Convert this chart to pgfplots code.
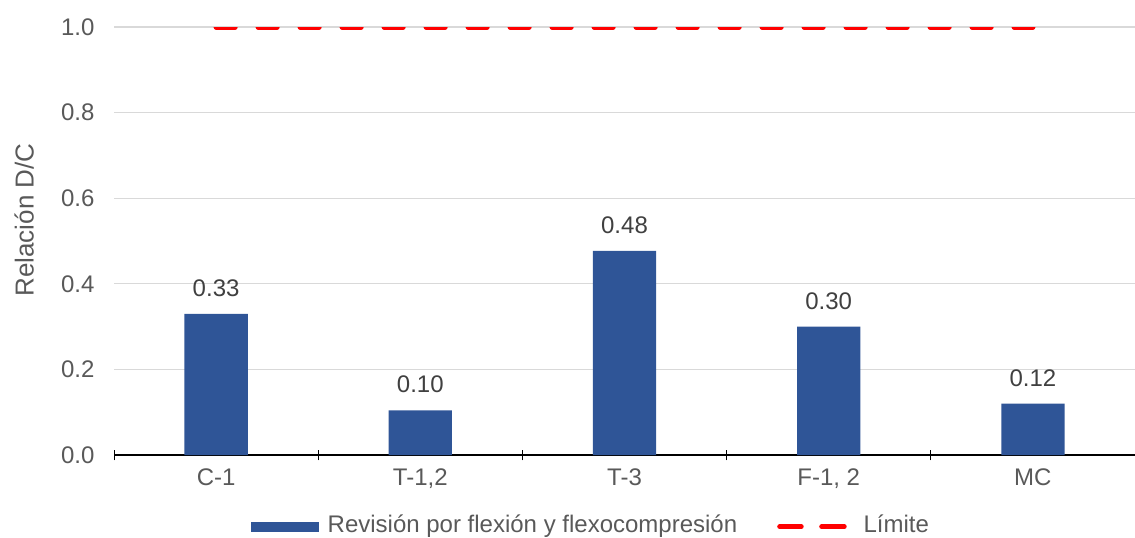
\documentclass[border=0pt]{standalone}
\usepackage{fontspec}
\setmainfont{Liberation Sans}
\usepackage{pgfplots}
\pgfplotsset{compat=1.18}
\definecolor{barblue}{HTML}{2F5597}
\definecolor{txtgray}{HTML}{595959}
\definecolor{lblgray}{HTML}{404040}
\definecolor{gridgray}{HTML}{D9D9D9}
\definecolor{limred}{HTML}{FF0000}
\begin{document}
\begin{tikzpicture}[font=\fontsize{18}{21.6}\selectfont]
\path[use as bounding box] (0,0) rectangle (851.25pt,402.75pt);
\begin{axis}[
  at={(85.5pt,61.5pt)}, anchor=south west,
  scale only axis, width=765.75pt, height=321pt,
  xmin=-0.5, xmax=4.5, ymin=0, ymax=1,
  axis lines*=left,
  y axis line style={draw=none},
  x axis line style={black, line width=0.9pt},
  xtick={0,1,2,3,4},
  xticklabels={C-1,{T-1,2},T-3,{F-1, 2},MC},
  major x tick style={draw=none},
  minor xtick={-0.5,0.5,1.5,2.5,3.5,4.5},
  minor x tick style={black, line width=0.75pt},
  minor tick length=8pt,
  tick align=center,
  ytick={0,0.2,0.4,0.6,0.8,1.0},
  major y tick style={draw=none},
  ymajorgrids,
  grid style={gridgray, line width=0.8pt},
  /pgf/number format/assume math mode=true,
  yticklabel style={/pgf/number format/.cd, fixed, fixed zerofill, precision=1, /tikz/.cd, text=txtgray, xshift=-9pt},
  xticklabel style={text=txtgray, yshift=-4.5pt},
  ylabel={Relación D/C},
  ylabel style={at={(axis description cs:-0.088,0.549)}, anchor=center, text=txtgray, font=\fontsize{19.5}{23}\selectfont},
  legend columns=2,
  legend style={at={(axis description cs:0.4675,-0.166)}, anchor=center, draw=none, fill=none,
    text=txtgray, font=\fontsize{18}{21.6}\selectfont, inner ysep=0pt,
    nodes={inner ysep=0pt, text height=13pt, text depth=3.5pt},
    /tikz/every odd column/.append style={column sep=4.5pt},
    /tikz/every even column/.append style={column sep=28pt}},
]
\addplot[ybar, bar width=0.31, fill=barblue, draw=none,
  nodes near coords={\pgfmathprintnumber[fixed,fixed zerofill,precision=2,assume math mode=true]{\pgfplotspointmeta}},
  nodes near coords style={text=lblgray, inner sep=0pt, anchor=south, yshift=12.75pt, text height=, text depth=},
  legend image code/.code={\fill[barblue] (0pt,-4.75pt) rectangle (51pt,2.75pt);}]
  coordinates {(0,0.33) (1,0.104) (2,0.477) (3,0.30) (4,0.12)};
\addlegendentry{Revisión por flexión y flexocompresión}
\addplot[limred, line width=3.75pt, line cap=round, dash pattern=on 14.25pt off 17.25pt,
  legend image code/.code={\path (0pt,-0.45pt) -- (54.5pt,-0.45pt);
    \draw[limred, line width=3.75pt, line cap=round, dash pattern=on 14.25pt off 18pt] (1.875pt,-0.45pt) -- (48.375pt,-0.45pt);}]
  coordinates {(0,1) (4,1)};
\addlegendentry{Límite}
\end{axis}
\end{tikzpicture}
\end{document}
